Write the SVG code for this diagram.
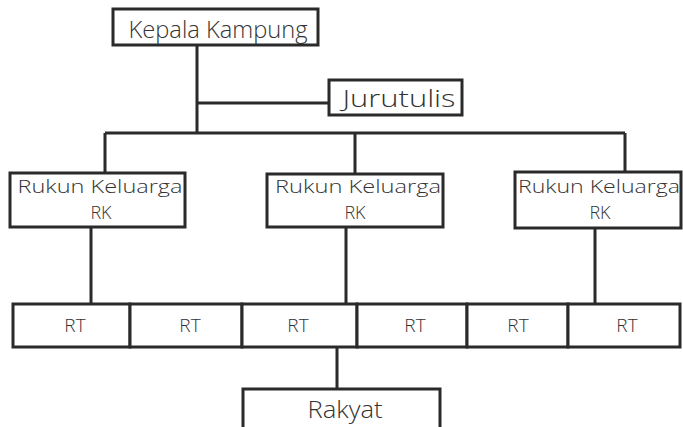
<svg xmlns="http://www.w3.org/2000/svg" width="683" height="427" viewBox="0 0 683 427">
<style>
.box{fill:#fff;stroke:#2a2a2a;stroke-width:3}
.ln{fill:none;stroke:#2a2a2a;stroke-width:3}
.t{font-family:"Open Sans","DejaVu Sans",sans-serif;font-weight:300;fill:#333;text-anchor:middle}
.big{font-size:23px}
.mid{font-size:19px}
.rk{font-size:18px}
</style>
<rect width="683" height="427" fill="#fff"/>
<g id="connectors">
<path class="ln" d="M197 45V133M197 103H329M105 133H625M105 133V173M355 133V174M625 133V172"/>
<path class="ln" d="M91 227V304M346 227V304M595 228V304M337 347V389"/>
</g>
<g id="kepala">
<rect class="box" x="113" y="9" width="205" height="36"/>
<text class="t big" x="218" y="38" textLength="179" lengthAdjust="spacingAndGlyphs">Kepala Kampung</text>
</g>
<g id="jurutulis">
<rect class="box" x="329" y="80" width="133" height="35"/>
<text class="t big" x="399" y="107" textLength="113" lengthAdjust="spacingAndGlyphs">Jurutulis</text>
</g>
<g id="rk1">
<rect class="box" x="10" y="173" width="175" height="54"/>
<text class="t rk" x="100" y="193" textLength="165" lengthAdjust="spacingAndGlyphs">Rukun Keluarga</text>
<text class="t rk" x="101" y="219">RK</text>
</g>
<g id="rk2">
<rect class="box" x="267" y="174" width="176" height="53"/>
<text class="t rk" x="358" y="193" textLength="166" lengthAdjust="spacingAndGlyphs">Rukun Keluarga</text>
<text class="t rk" x="355" y="219">RK</text>
</g>
<g id="rk3">
<rect class="box" x="515" y="172" width="166" height="56"/>
<text class="t rk" x="599" y="193" textLength="162" lengthAdjust="spacingAndGlyphs">Rukun Keluarga</text>
<text class="t rk" x="600" y="219">RK</text>
</g>
<g id="rt1"><rect class="box" x="13" y="304" width="117" height="43"/><text class="t mid" x="75" y="332">RT</text></g>
<g id="rt2"><rect class="box" x="130" y="304" width="112" height="43"/><text class="t mid" x="190" y="332">RT</text></g>
<g id="rt3"><rect class="box" x="242" y="304" width="115" height="43"/><text class="t mid" x="298" y="332">RT</text></g>
<g id="rt4"><rect class="box" x="357" y="304" width="110" height="43"/><text class="t mid" x="415" y="332">RT</text></g>
<g id="rt5"><rect class="box" x="467" y="304" width="101" height="43"/><text class="t mid" x="518" y="332">RT</text></g>
<g id="rt6"><rect class="box" x="568" y="304" width="112" height="43"/><text class="t mid" x="627" y="332">RT</text></g>
<g id="rakyat">
<rect class="box" x="243" y="389" width="197" height="42"/>
<text class="t big" x="345" y="418" textLength="75" lengthAdjust="spacingAndGlyphs">Rakyat</text>
</g>
</svg>
